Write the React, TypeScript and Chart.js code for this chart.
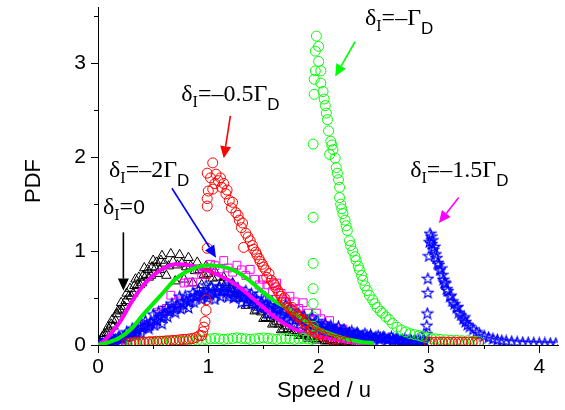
import React, { useEffect, useRef } from "react";
import { Chart, registerables } from "chart.js";
Chart.register(...registerables);

const SANS = "'Liberation Sans', Arial, sans-serif";
const SERIF = "'Liberation Serif', 'Times New Roman', serif";

// ---------- δI = 0 : black triangles ----------
const blackX = [0.02,0.06,0.10,0.14,0.18,0.22,0.26,0.30,0.34,0.38,0.42,0.46,0.50,0.54,0.58,0.62,0.66,0.70,0.74,0.78,0.82,0.86,0.90,0.94,0.98,1.02,1.06,1.10,1.14,1.18,1.22,1.26,1.30,1.34,1.38,1.42,1.46,1.50,1.54,1.58,1.62,1.66,1.70,1.74,1.78,1.82,1.86,1.90,1.94,1.98,2.02,2.06,2.10,2.14,2.18,2.22,2.26,2.30];
const blackY = [0.03,0.12,0.17,0.2,0.36,0.38,0.55,0.52,0.7,0.64,0.82,0.72,0.9,0.76,0.95,0.74,0.97,0.68,0.96,0.7,0.93,0.66,0.88,0.64,0.84,0.62,0.78,0.6,0.72,0.56,0.66,0.5,0.56,0.42,0.48,0.36,0.4,0.28,0.32,0.22,0.25,0.16,0.2,0.13,0.15,0.1,0.12,0.07,0.09,0.05,0.07,0.04,0.05,0.03,0.035,0.02,0.025,0.015];
const black2X = [0.04,0.08,0.12,0.16,0.20,0.24,0.28,0.32,0.36,0.40,0.44,0.48,0.52,0.56,0.60,0.64,0.68,0.72,0.76,0.80,0.84,0.88,0.92,0.96,1.00,1.04,1.08,1.12,1.16,1.20,1.24,1.28,1.32,1.36,1.40,1.44,1.48,1.52,1.56,1.60,1.64,1.68,1.72,1.76,1.80,1.84,1.88,1.92,1.96,2.00,2.04,2.08,2.12,2.16,2.20,2.24,2.28,2.32];
const black2Y = [0.09,0.13,0.22,0.26,0.37,0.41,0.52,0.55,0.64,0.66,0.75,0.74,0.82,0.8,0.87,0.84,0.89,0.85,0.87,0.83,0.84,0.79,0.8,0.75,0.76,0.71,0.72,0.66,0.66,0.6,0.59,0.53,0.51,0.45,0.43,0.37,0.35,0.29,0.28,0.23,0.22,0.17,0.17,0.13,0.13,0.1,0.105,0.085,0.09,0.065,0.065,0.045,0.05,0.035,0.04,0.025,0.03,0.02];
const black3X = [0.01,0.05,0.09,0.13,0.17,0.21,0.25,0.29,0.33,0.37,0.41,0.45,0.49,0.53,0.57];
const black3Y = [0.02,0.1,0.19,0.27,0.33,0.45,0.47,0.6,0.63,0.72,0.74,0.8,0.83,0.88,0.9];

// ---------- magenta squares ----------
const magSqX = [0.18,0.22,0.26,0.30,0.34,0.38,0.42,0.46,0.50,0.54,0.58,0.62,0.66,0.70,0.74,0.78,0.82,0.86,0.90,0.94,0.98,1.02,1.06,1.10,1.14,1.18,1.22,1.26,1.30,1.34,1.38,1.42,1.46,1.50,1.54,1.58,1.62,1.66,1.70,1.74,1.78,1.82,1.86,1.90,1.94,1.98,2.02,2.06,2.10,2.14,2.18,2.22,2.26,2.30,2.34,2.38,2.42,2.46,2.50];
const magSqY = [0.03,0.03,0.05,0.09,0.11,0.12,0.22,0.2,0.23,0.35,0.37,0.39,0.53,0.45,0.47,0.66,0.67,0.67,0.8,0.75,0.75,0.86,0.845,0.81,0.9,0.82,0.775,0.85,0.8,0.74,0.805,0.7,0.64,0.7,0.64,0.57,0.66,0.55,0.46,0.52,0.46,0.39,0.45,0.34,0.28,0.34,0.28,0.21,0.26,0.18,0.13,0.17,0.13,0.09,0.11,0.07,0.05,0.06,0.04];

// ---------- blue stars (broad) ----------
const blueX = [0.02,0.06,0.10,0.14,0.18,0.22,0.26,0.30,0.34,0.38,0.42,0.46,0.50,0.54,0.58,0.62,0.66,0.70,0.74,0.78,0.82,0.86,0.90,0.94,0.98,1.02,1.06,1.10,1.14,1.18,1.22,1.26,1.30,1.34,1.38,1.42,1.46,1.50,1.54,1.58,1.62,1.66,1.70,1.74,1.78,1.82,1.86,1.90,1.94,1.98,2.02,2.06,2.10,2.14,2.18,2.22,2.26,2.30,2.34,2.38,2.42,2.46,2.50,2.54,2.58,2.62,2.66,2.70,2.74,2.78,2.82,2.86,2.90,2.94];
const blueY = [0.015,0.02,0.03,0.06,0.07,0.07,0.14,0.12,0.11,0.21,0.2,0.18,0.33,0.26,0.23,0.4,0.38,0.35,0.52,0.43,0.4,0.56,0.53,0.49,0.64,0.54,0.49,0.63,0.58,0.515,0.65,0.53,0.455,0.58,0.51,0.43,0.55,0.42,0.34,0.46,0.39,0.31,0.43,0.3,0.22,0.34,0.27,0.2,0.3,0.2,0.15,0.23,0.18,0.14,0.2,0.135,0.1,0.15,0.12,0.09,0.125,0.085,0.065,0.1,0.08,0.06,0.09,0.06,0.045,0.07,0.05,0.04,0.06,0.04];
const blue2X = [0.04,0.08,0.12,0.16,0.20,0.24,0.28,0.32,0.36,0.40,0.44,0.48,0.52,0.56,0.60,0.64,0.68,0.72,0.76,0.80,0.84,0.88,0.92,0.96,1.00,1.04,1.08,1.12,1.16,1.20,1.24,1.28,1.32,1.36,1.40,1.44,1.48,1.52,1.56,1.60,1.64,1.68,1.72,1.76,1.80,1.84,1.88,1.92,1.96,2.00,2.04,2.08,2.12,2.16,2.20,2.24,2.28,2.32,2.36,2.40,2.44,2.48,2.52,2.56,2.60,2.64,2.68,2.72,2.76,2.80,2.84,2.88,2.92,2.96];
const blue2Y = [0.02,0.03,0.045,0.06,0.08,0.1,0.12,0.14,0.165,0.19,0.21,0.245,0.275,0.305,0.335,0.365,0.395,0.425,0.45,0.475,0.5,0.52,0.54,0.555,0.565,0.575,0.58,0.58,0.578,0.572,0.565,0.552,0.538,0.52,0.5,0.48,0.46,0.44,0.42,0.4,0.38,0.36,0.34,0.32,0.3,0.28,0.262,0.248,0.232,0.218,0.202,0.188,0.175,0.165,0.155,0.145,0.135,0.125,0.115,0.105,0.098,0.092,0.088,0.082,0.078,0.072,0.068,0.062,0.058,0.052,0.05,0.048,0.045,0.042];
const blue3X = [0.03,0.07,0.11,0.15,0.19,0.23,0.27,0.31,0.35,0.39,0.43,0.47,0.51,0.55,0.59,0.63,0.67,0.71,0.75,0.79,0.83,0.87,0.91,0.95,0.99,1.03,1.07,1.11,1.15,1.19,1.23,1.27,1.31,1.35,1.39,1.43,1.47,1.51,1.55,1.59,1.63,1.67,1.71,1.75,1.79,1.83,1.87,1.91,1.95,1.99,2.03,2.07,2.11,2.15,2.19,2.23,2.27,2.31,2.35,2.39,2.43,2.47,2.51,2.55,2.59,2.63,2.67,2.71,2.75,2.79,2.83,2.87,2.91,2.95];
const blue3Y = [0.01,0.04,0.035,0.04,0.1,0.08,0.08,0.18,0.14,0.13,0.26,0.215,0.215,0.355,0.305,0.305,0.445,0.395,0.39,0.525,0.47,0.46,0.59,0.525,0.505,0.625,0.55,0.52,0.628,0.542,0.505,0.602,0.508,0.46,0.55,0.45,0.4,0.49,0.39,0.34,0.43,0.33,0.28,0.37,0.27,0.22,0.31,0.22,0.18,0.26,0.18,0.14,0.21,0.145,0.12,0.17,0.12,0.1,0.135,0.095,0.08,0.11,0.08,0.065,0.09,0.065,0.055,0.075,0.05,0.04,0.06,0.045,0.035,0.05];

// ---------- blue stars (peak at 3) ----------
const blueSpikeX = [2.96,2.975,2.98,2.985,2.99,2.99,3.0,3.005,3.01,3.02,3.025,3.03,3.04,3.05,3.06,3.07,3.08,3.09,3.1,3.11,3.12,3.13,3.14,3.15,3.16,3.17,3.19,3.2,3.21,3.23,3.25,3.26,3.27,3.29,3.31,3.32,3.33,3.35,3.37,3.4,3.43,3.46,3.5,3.54,3.58,3.62,3.66,3.7,3.75,3.8,3.85,3.9,3.95,4.0,4.05,4.1,4.15];
const blueSpikeY = [0.05,0.12,0.21,0.34,0.56,0.71,0.95,1.1,1.19,1.16,1.08,1.12,1.02,1.05,0.97,0.93,0.88,0.86,0.8,0.82,0.75,0.7,0.67,0.66,0.6,0.58,0.52,0.53,0.47,0.44,0.4,0.41,0.35,0.32,0.28,0.3,0.25,0.22,0.2,0.17,0.14,0.12,0.1,0.085,0.07,0.06,0.05,0.045,0.04,0.035,0.03,0.028,0.025,0.023,0.022,0.02,0.02];

// ---------- red circles (δI = -0.5ΓD) ----------
const redLowX = [0.26,0.29,0.32,0.35,0.38,0.41,0.44,0.47,0.50,0.53,0.56,0.59,0.62,0.65,0.68,0.71,0.74,0.77,0.80,0.83,0.86,0.89,0.92];
const redLowY = [0.02,0.02,0.025,0.025,0.03,0.03,0.03,0.035,0.035,0.04,0.04,0.04,0.045,0.045,0.05,0.05,0.055,0.06,0.06,0.065,0.07,0.08,0.1];
const redPeakX = [0.94,0.95,0.96,0.97,0.98,0.98,0.99,0.99,0.99,0.99,1.0,0.99,1.02,1.04,1.04,1.06,1.07,1.09,1.11,1.12,1.14,1.16,1.17,1.19,1.21,1.22,1.25,1.27,1.28,1.3,1.31,1.32,1.34,1.36,1.38,1.4,1.41,1.43,1.44,1.46,1.47,1.49,1.5,1.52,1.53,1.55,1.57,1.59,1.6,1.61,1.63,1.64,1.66,1.68,1.69,1.7,1.73,1.75,1.76,1.77,1.79,1.81,1.83,1.84,1.87,1.88,1.9,1.93,1.95,1.97,2.0,2.02,2.04,2.08,2.12,2.16,2.2,2.25];
const redPeakY = [0.1,0.14,0.19,0.25,0.37,0.48,0.76,1.03,1.48,1.56,1.64,1.83,1.78,1.94,1.66,1.72,1.82,1.75,1.78,1.68,1.72,1.61,1.65,1.54,1.46,1.52,1.41,1.38,1.33,1.25,1.3,1.04,1.19,1.15,1.11,1.06,1.02,0.99,0.96,0.92,0.89,0.86,0.83,0.8,0.72,0.76,0.69,0.66,0.64,0.61,0.58,0.55,0.52,0.48,0.5,0.45,0.4,0.38,0.4,0.36,0.33,0.3,0.31,0.27,0.23,0.25,0.19,0.16,0.18,0.13,0.11,0.12,0.09,0.08,0.06,0.05,0.04,0.03];
const redTailX = [3.0,3.03,3.06,3.09,3.12,3.15,3.18,3.21,3.24,3.27,3.3,3.33,3.36,3.39,3.42,3.45];
const redTailY = [0.03,0.03,0.03,0.03,0.03,0.03,0.03,0.03,0.03,0.03,0.03,0.03,0.03,0.03,0.025,0.02];

// ---------- green circles (δI = -ΓD) ----------
const greenLowX = [0.30,0.34,0.38,0.42,0.46,0.50,0.54,0.58,0.62,0.66,0.70,0.74,0.78,0.82,0.86,0.90,0.94,0.98,1.02,1.06,1.10,1.14,1.18,1.22,1.26,1.30,1.34,1.38,1.42,1.46,1.50,1.54,1.58,1.62,1.66,1.70,1.74,1.78,1.82,1.86,1.90,1.94];
const greenLowY = [0.02,0.02,0.025,0.025,0.03,0.03,0.03,0.035,0.035,0.035,0.04,0.04,0.04,0.045,0.045,0.05,0.05,0.06,0.065,0.07,0.065,0.06,0.065,0.07,0.075,0.07,0.065,0.06,0.065,0.07,0.075,0.07,0.065,0.06,0.065,0.07,0.065,0.06,0.065,0.07,0.065,0.06];
const greenPeakX = [1.95,1.95,1.95,1.95,1.95,1.95,1.95,1.95,1.96,1.96,1.97,1.97,1.98,2.0,2.0,2.02,2.02,2.04,2.05,2.06,2.07,2.08,2.09,2.1,2.11,2.12,2.13,2.15,2.16,2.17,2.18,2.19,2.19,2.2,2.21,2.22,2.24,2.25,2.26,2.28,2.29,2.31,2.33,2.34,2.36,2.37,2.39,2.4,2.42,2.44,2.46,2.49,2.51,2.53,2.56,2.58,2.61,2.64,2.67,2.71,2.75,2.79,2.83,2.87,2.91,2.94,2.98,3.02,3.06,3.1,3.15,3.2,3.25,3.3,3.35,3.4,3.45];
const greenPeakY = [0.1,0.2,0.3,0.44,0.6,0.87,1.36,2.14,2.67,2.83,2.92,3.13,3.29,3.18,3.02,2.92,2.79,2.7,2.62,2.55,2.47,2.4,2.28,2.03,2.17,2.13,2.08,1.99,1.89,1.83,1.76,1.68,1.57,1.5,1.45,1.4,1.33,1.27,1.22,1.11,1.06,1.0,0.94,0.9,0.84,0.8,0.74,0.69,0.63,0.58,0.53,0.48,0.44,0.4,0.36,0.34,0.3,0.27,0.23,0.19,0.16,0.14,0.12,0.11,0.1,0.09,0.08,0.07,0.065,0.06,0.055,0.05,0.05,0.045,0.045,0.04,0.04];

// ---------- fitted curves ----------
const magLineX = [0,0.05,0.1,0.2,0.3,0.4,0.5,0.6,0.7,0.8,0.9,1.0,1.1,1.2,1.3,1.4,1.5,1.6,1.7,1.8,1.9,2.0,2.1,2.2,2.3,2.4,2.5];
const magLineY = [0,0.04,0.1,0.25,0.45,0.62,0.74,0.82,0.86,0.855,0.83,0.79,0.74,0.68,0.6,0.5,0.4,0.3,0.22,0.16,0.12,0.09,0.065,0.045,0.03,0.02,0.01];
const greenLineX = [0,0.1,0.2,0.3,0.4,0.5,0.6,0.7,0.8,0.9,1.0,1.1,1.2,1.3,1.4,1.5,1.6,1.7,1.8,1.9,2.0,2.1,2.2,2.3,2.4,2.5];
const greenLineY = [0,0.03,0.08,0.17,0.31,0.44,0.57,0.7,0.78,0.83,0.85,0.84,0.81,0.75,0.66,0.56,0.47,0.4,0.32,0.24,0.17,0.12,0.08,0.05,0.03,0.02];

// ---------- axis ticks ----------
const xMajor = [0, 1, 2, 3, 4];
const xMinor = [0.5, 1.5, 2.5, 3.5];
const yMajor = [0, 1, 2, 3];
const yMinor = [0.5, 1.5, 2.5, 3.5];

// ---------- annotations (in data units) ----------
type Part = { t: string; font: string; dy: number };
const mainF = `24px ${SERIF}`;
const subI = `16px ${SERIF}`;
const subD = `17px ${SANS}`;
const detuning = (v: string): Part[] => [
  { t: "δ", font: mainF, dy: 0 },
  { t: "I", font: subI, dy: 6 },
  { t: "=–" + v + "Γ", font: mainF, dy: 0 },
  { t: "D", font: subD, dy: 9 },
];
const annotations = [
  { tx: 2.42, ty: 3.41, parts: detuning(""), color: "#00ff00", a: [2.33, 3.23, 2.15, 2.86] },
  { tx: 0.755, ty: 2.6, parts: detuning("0.5"), color: "#ff0000", a: [1.2, 2.44, 1.14, 1.99] },
  { tx: 0.1, ty: 1.79, parts: detuning("2"), color: "#0000ff", a: [0.67, 1.67, 1.07, 0.93] },
  {
    tx: 0.045, ty: 1.4, color: "#000000", a: [0.23, 1.2, 0.23, 0.58],
    parts: [
      { t: "δ", font: mainF, dy: 0 },
      { t: "I", font: subI, dy: 6 },
      { t: "=", font: mainF, dy: 0 },
      { t: "0", font: `21px ${SANS}`, dy: 0 },
    ] as Part[],
  },
  { tx: 2.83, ty: 1.79, parts: detuning("1.5"), color: "#ff00ff", a: [3.27, 1.57, 3.09, 1.3] },
];

function pts(xs: number[], ys: number[]) {
  const out: { x: number; y: number }[] = [];
  const n = Math.min(xs.length, ys.length);
  for (let i = 0; i < n; i++) out.push({ x: xs[i], y: ys[i] });
  return out;
}

function makeStar(color: string) {
  const c = document.createElement("canvas");
  const s = 13;
  c.width = s;
  c.height = s;
  const g = c.getContext("2d")!;
  g.strokeStyle = color;
  g.lineWidth = 1.2;
  g.beginPath();
  const cx = s / 2, cy = s / 2 + 0.6, R = 5.6, r = 2.4;
  for (let i = 0; i < 10; i++) {
    const a = -Math.PI / 2 + (i * Math.PI) / 5;
    const rad = i % 2 === 0 ? R : r;
    const px = cx + rad * Math.cos(a), py = cy + rad * Math.sin(a);
    if (i === 0) g.moveTo(px, py);
    else g.lineTo(px, py);
  }
  g.closePath();
  g.stroke();
  return c;
}

const decorPlugin = {
  id: "decor",
  afterDraw(chart: any) {
    const ctx: CanvasRenderingContext2D = chart.ctx;
    const xs = chart.scales.x, ys = chart.scales.y;
    const area = chart.chartArea;
    ctx.save();
    // minor ticks
    ctx.strokeStyle = "#000";
    ctx.lineWidth = 1;
    ctx.beginPath();
    for (const v of yMinor) {
      const p = Math.round(ys.getPixelForValue(v)) + 0.5;
      ctx.moveTo(area.left - 4, p);
      ctx.lineTo(area.left, p);
    }
    for (const v of xMinor) {
      const p = Math.round(xs.getPixelForValue(v)) + 0.5;
      ctx.moveTo(p, area.bottom);
      ctx.lineTo(p, area.bottom + 4);
    }
    ctx.stroke();

    // axis titles
    ctx.fillStyle = "#000";
    ctx.font = `22px ${SANS}`;
    ctx.textAlign = "center";
    ctx.textBaseline = "alphabetic";
    ctx.fillText("Speed / u", (area.left + area.right) / 2 - 4, 397);
    ctx.save();
    ctx.translate(40, (area.top + area.bottom) / 2 + 5);
    ctx.rotate(-Math.PI / 2);
    ctx.fillText("PDF", 0, 0);
    ctx.restore();

    // annotations
    ctx.textAlign = "left";
    for (const an of annotations) {
      let x = xs.getPixelForValue(an.tx);
      const y = ys.getPixelForValue(an.ty);
      ctx.fillStyle = "#000";
      for (const p of an.parts) {
        ctx.font = p.font;
        ctx.fillText(p.t, x, y + p.dy);
        x += ctx.measureText(p.t).width;
      }
      const x1 = xs.getPixelForValue(an.a[0]);
      const y1 = ys.getPixelForValue(an.a[1]);
      const x2 = xs.getPixelForValue(an.a[2]);
      const y2 = ys.getPixelForValue(an.a[3]);
      const ang = Math.atan2(y2 - y1, x2 - x1);
      const hl = 12, hw = 5.5;
      const bx = x2 - hl * Math.cos(ang), by = y2 - hl * Math.sin(ang);
      ctx.strokeStyle = an.color;
      ctx.fillStyle = an.color;
      ctx.lineWidth = 1.6;
      ctx.beginPath();
      ctx.moveTo(x1, y1);
      ctx.lineTo(bx, by);
      ctx.stroke();
      ctx.beginPath();
      ctx.moveTo(x2, y2);
      ctx.lineTo(bx + hw * Math.sin(ang), by - hw * Math.cos(ang));
      ctx.lineTo(bx - hw * Math.sin(ang), by + hw * Math.cos(ang));
      ctx.closePath();
      ctx.fill();
    }
    ctx.restore();
  },
};

export default function App() {
  const ref = useRef<HTMLCanvasElement>(null);
  useEffect(() => {
    if (!ref.current) return;
    const star = makeStar("#0000ff");
    const none = "rgba(0,0,0,0)";
    const circle = (color: string) => ({
      showLine: false, pointStyle: "circle", pointRadius: 5, borderColor: color,
      backgroundColor: none, pointBorderWidth: 1,
    });
    const tri = {
      showLine: false, pointStyle: "triangle", pointRadius: 5.5,
      borderColor: "#000", backgroundColor: none, pointBorderWidth: 1,
    };
    const starSet = { showLine: false, pointStyle: star, pointRadius: 6 };
    const chart = new Chart(ref.current, {
      type: "scatter",
      data: {
        datasets: [
          { data: pts(redPeakX, redPeakY), ...circle("#ff0000") },
          { data: pts(redLowX, redLowY), ...circle("#ff0000") },
          { data: pts(redTailX, redTailY), ...circle("#ff0000") },
          { data: pts(greenPeakX, greenPeakY), ...circle("#00ff00") },
          { data: pts(greenLowX, greenLowY), ...circle("#00ff00") },
          {
            data: pts(greenLineX, greenLineY), showLine: true, borderColor: "#00ee00",
            borderWidth: 4, pointRadius: 0, cubicInterpolationMode: "monotone",
          },
          {
            data: pts(magLineX, magLineY), showLine: true, borderColor: "#ff00ff",
            borderWidth: 4, pointRadius: 0, cubicInterpolationMode: "monotone",
          },
          { data: pts(blueSpikeX, blueSpikeY), ...starSet },
          { data: pts(blueX, blueY), ...starSet },
          { data: pts(blue2X, blue2Y), ...starSet },
          { data: pts(blue3X, blue3Y), ...starSet },
          {
            data: pts(magSqX, magSqY), showLine: false, pointStyle: "rect", pointRadius: 5.5,
            borderColor: "#ff00ff", backgroundColor: none, pointBorderWidth: 1,
          },
          { data: pts(blackX, blackY), ...tri },
          { data: pts(black2X, black2Y), ...tri },
          { data: pts(black3X, black3Y), ...tri },
        ] as any,
      },
      options: {
        animation: false,
        responsive: false,
        devicePixelRatio: 1,
        layout: { padding: { top: 5, right: 3, left: 0, bottom: 0 } },
        plugins: { legend: { display: false }, tooltip: { enabled: false } },
        scales: {
          x: {
            type: "linear", min: 0, max: 4.17,
            afterFit: (s: any) => { s.height = 65; s.paddingLeft = 0; s.paddingRight = 0; s.paddingTop = 0; s.paddingBottom = 0; },
            afterBuildTicks: (s: any) => { s.ticks = xMajor.map((v) => ({ value: v })); },
            border: { display: true, color: "#000", width: 1 },
            grid: { display: true, drawOnChartArea: false, drawTicks: true, tickLength: 8, color: "#000", lineWidth: 1 },
            ticks: { color: "#000", font: { family: SANS, size: 21 }, padding: 2, maxRotation: 0, autoSkip: false, includeBounds: false },
          },
          y: {
            type: "linear", min: 0, max: 3.6,
            afterFit: (s: any) => { s.width = 98; s.paddingLeft = 0; s.paddingRight = 0; s.paddingTop = 0; s.paddingBottom = 0; },
            afterBuildTicks: (s: any) => { s.ticks = yMajor.map((v) => ({ value: v })); },
            border: { display: true, color: "#000", width: 1 },
            grid: { display: true, drawOnChartArea: false, drawTicks: true, tickLength: 7, color: "#000", lineWidth: 1 },
            ticks: { color: "#000", font: { family: SANS, size: 21 }, padding: 5, autoSkip: false, includeBounds: false },
          },
        },
      } as any,
      plugins: [decorPlugin],
    });
    return () => chart.destroy();
  }, []);
  return (
    <div style={{ position: "absolute", left: 0, top: 0, width: 565, height: 410, background: "#fff" }}>
      <canvas ref={ref} width={565} height={410} style={{ display: "block", width: 565, height: 410 }} />
    </div>
  );
}
